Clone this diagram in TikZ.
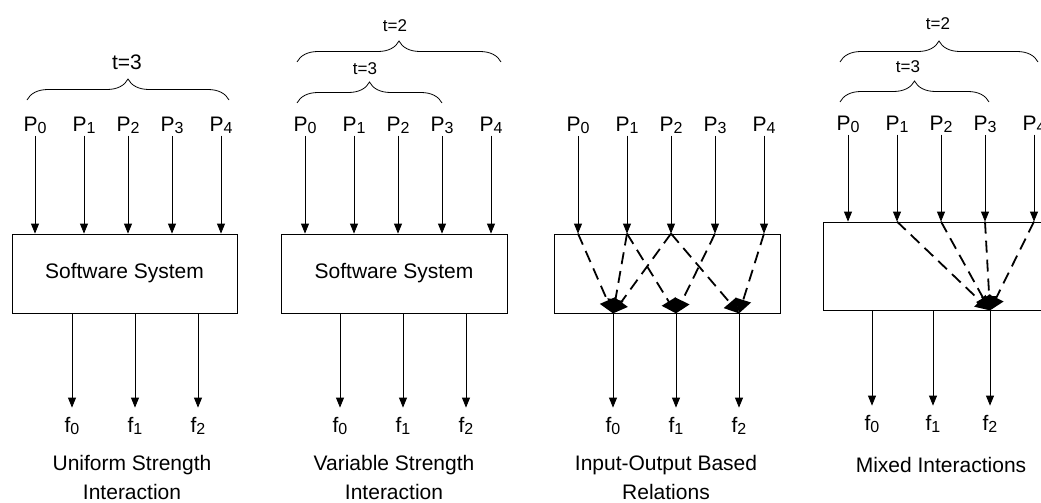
\documentclass[tikz,border=0pt]{standalone}
\usepackage{fontspec}
\setmainfont{Liberation Sans}
\usetikzlibrary{arrows.meta}
\usetikzlibrary{decorations.pathreplacing}
\newcommand{\lowdigit}[1]{\raisebox{-2.5pt}{\fontsize{16}{18}\selectfont #1}}
\newcommand{\pin}[1]{P\lowdigit{#1}}
\newcommand{\fout}[1]{f\lowdigit{#1}}
\newcommand{\gapwide}{49}
\newcommand{\gapnarrow}{44}
\newcommand{\gapout}{63}
\tikzset{
    mainfont/.style={font=\fontsize{21}{25}\selectfont},
    plabel/.style={mainfont, anchor=base, inner sep=2pt},
    flabel/.style={plabel, inner ysep=9pt},
    sysbox/.style={mainfont, draw, rectangle, line width=0.8pt, minimum width=226pt, minimum height=79pt},
    feed/.style={-{Triangle[width=8pt, length=10pt]}, line width=0.8pt},
    relation/.style={-{Triangle[width=16pt, length=14pt]}, line width=1.8pt, dash pattern=on 12pt off 7pt},
    strength/.style={decorate, decoration={brace, amplitude=21pt}, line width=0.8pt},
    tlabel/.style={font=\fontsize{17}{19}\selectfont, inner sep=1pt},
    caption/.style={align=center, font=\fontsize{21}{29}\selectfont}
}

\begin{document}
\begin{tikzpicture}[x=1pt, y=-1pt]
      \useasboundingbox (0,0) rectangle (1041,503);

      % uniform strength
      \path (35,131) node[plabel] (PA0) {\pin{0}}
          ++(\gapwide,0) node[plabel] (PA1) {\pin{1}}
          ++(\gapnarrow,0) node[plabel] (PA2) {\pin{2}}
          ++(\gapnarrow,0) node[plabel] (PA3) {\pin{3}}
          ++(\gapwide,0) node[plabel] (PA4) {\pin{4}};
      \node[sysbox, minimum width=225pt] (boxA) at (124.5,273.5) {Software System};
      \path (72,432) node[flabel] (fA0) {\fout{0}}
          ++(\gapout,0) node[flabel] (fA1) {\fout{1}}
          ++(\gapout,0) node[flabel] (fA2) {\fout{2}};
      \draw[strength] (27,100) -- (229,100);
      \node[tlabel, font=\fontsize{21}{24}\selectfont] (tA) at (127,62) {t=3};
      \node[caption] (capA) at (132,477) {Uniform Strength\\Interaction};

      % variable strength
      \path (305,131) node[plabel] (PB0) {\pin{0}}
          ++(\gapwide,0) node[plabel] (PB1) {\pin{1}}
          ++(\gapnarrow,0) node[plabel] (PB2) {\pin{2}}
          ++(\gapnarrow,0) node[plabel] (PB3) {\pin{3}}
          ++(\gapwide,0) node[plabel] (PB4) {\pin{4}};
      \node[sysbox] (boxB) at (394,273.5) {Software System};
      \path (340,432) node[flabel] (fB0) {\fout{0}}
          ++(\gapout,0) node[flabel] (fB1) {\fout{1}}
          ++(\gapout,0) node[flabel] (fB2) {\fout{2}};
      \draw[strength] (297,62) -- (501,62);
      \draw[strength] (297,103) -- (442,103);
      \node[tlabel] (tB-outer) at (395,26) {t=2};
      \node[tlabel] (tB-inner) at (365,69) {t=3};
      \node[caption] (capB) at (394,477) {Variable Strength\\Interaction};

      % input-output relations
      \path (578,131) node[plabel] (PC0) {\pin{0}}
          ++(\gapwide,0) node[plabel] (PC1) {\pin{1}}
          ++(\gapnarrow,0) node[plabel] (PC2) {\pin{2}}
          ++(\gapnarrow,0) node[plabel] (PC3) {\pin{3}}
          ++(\gapwide,0) node[plabel] (PC4) {\pin{4}};
      \node[sysbox] (boxC) at (667,273.5) {};
      \path (613,432) node[flabel] (fC0) {\fout{0}}
          ++(\gapout,0) node[flabel] (fC1) {\fout{1}}
          ++(\gapout,0) node[flabel] (fC2) {\fout{2}};
      \node[caption] (capC) at (666,477) {Input-Output Based\\Relations};

      % mixed
      \path (848,130) node[plabel] (PD0) {\pin{0}}
          ++(\gapwide,0) node[plabel] (PD1) {\pin{1}}
          ++(\gapnarrow,0) node[plabel] (PD2) {\pin{2}}
          ++(\gapnarrow,0) node[plabel] (PD3) {\pin{3}}
          ++(\gapwide,0) node[plabel] (PD4) {\pin{4}};
      \node[sysbox, minimum width=237pt, minimum height=88pt] (boxD) at (941.5,266) {};
      \path (872,430) node[flabel] (fD0) {\fout{0}}
          ++(61,0) node[flabel] (fD1) {\fout{1}}
          ++(57,0) node[flabel] (fD2) {\fout{2}};
      \draw[strength] (840,62) -- (1038,62);
      \draw[strength] (840,102) -- (989,102);
      \node[tlabel] (tD-outer) at (938,24) {t=2};
      \node[tlabel] (tD-inner) at (908,67) {t=3};
      \node[caption] (capD) at (941,465) {Mixed Interactions};

      \draw[feed] (PA0.south) -- (PA0.south |- boxA.north); \draw[feed] (PA1.south) -- (PA1.south |- boxA.north);
      \draw[feed] (PA2.south) -- (PA2.south |- boxA.north); \draw[feed] (PA3.south) -- (PA3.south |- boxA.north);
      \draw[feed] (PA4.south) -- (PA4.south |- boxA.north);
      \draw[feed] (fA0.north |- boxA.south) -- (fA0.north); \draw[feed] (fA1.north |- boxA.south) -- (fA1.north);
      \draw[feed] (fA2.north |- boxA.south) -- (fA2.north);

      \draw[feed] (PB0.south) -- (PB0.south |- boxB.north); \draw[feed] (PB1.south) -- (PB1.south |- boxB.north);
      \draw[feed] (PB2.south) -- (PB2.south |- boxB.north); \draw[feed] (PB3.south) -- (PB3.south |- boxB.north);
      \draw[feed] (PB4.south) -- (PB4.south |- boxB.north);
      \draw[feed] (fB0.north |- boxB.south) -- (fB0.north); \draw[feed] (fB1.north |- boxB.south) -- (fB1.north);
      \draw[feed] (fB2.north |- boxB.south) -- (fB2.north);

      \draw[feed] (PC0.south) -- (PC0.south |- boxC.north); \draw[feed] (PC1.south) -- (PC1.south |- boxC.north);
      \draw[feed] (PC2.south) -- (PC2.south |- boxC.north); \draw[feed] (PC3.south) -- (PC3.south |- boxC.north);
      \draw[feed] (PC4.south) -- (PC4.south |- boxC.north);
      \draw[feed] (fC0.north |- boxC.south) -- (fC0.north); \draw[feed] (fC1.north |- boxC.south) -- (fC1.north);
      \draw[feed] (fC2.north |- boxC.south) -- (fC2.north);
      \draw[relation] (PC0 |- boxC.north) -- (fC0 |- boxC.south);
      \draw[relation] (PC1 |- boxC.north) -- (fC0 |- boxC.south);
      \draw[relation] (PC1 |- boxC.north) -- (fC1 |- boxC.south);
      \draw[relation] (PC2 |- boxC.north) -- (fC0 |- boxC.south);
      \draw[relation] (PC2 |- boxC.north) -- (fC2 |- boxC.south);
      \draw[relation] (PC3 |- boxC.north) -- (fC1 |- boxC.south);
      \draw[relation] (PC4 |- boxC.north) -- (fC2 |- boxC.south);

      \draw[feed] (PD0.south) -- (PD0.south |- boxD.north); \draw[feed] (PD1.south) -- (PD1.south |- boxD.north);
      \draw[feed] (PD2.south) -- (PD2.south |- boxD.north); \draw[feed] (PD3.south) -- (PD3.south |- boxD.north);
      \draw[feed] (PD4.south) -- (PD4.south |- boxD.north);
      \draw[feed] (fD0.north |- boxD.south) -- (fD0.north); \draw[feed] (fD1.north |- boxD.south) -- (fD1.north);
      \draw[feed] (fD2.north |- boxD.south) -- (fD2.north);
      \draw[relation] (PD1 |- boxD.north) -- (fD2 |- boxD.south);
      \draw[relation] (PD2 |- boxD.north) -- (fD2 |- boxD.south);
      \draw[relation] (PD3 |- boxD.north) -- (fD2 |- boxD.south);
      \draw[relation] (PD4 |- boxD.north) -- (fD2 |- boxD.south);

    \end{tikzpicture}
\end{document}
